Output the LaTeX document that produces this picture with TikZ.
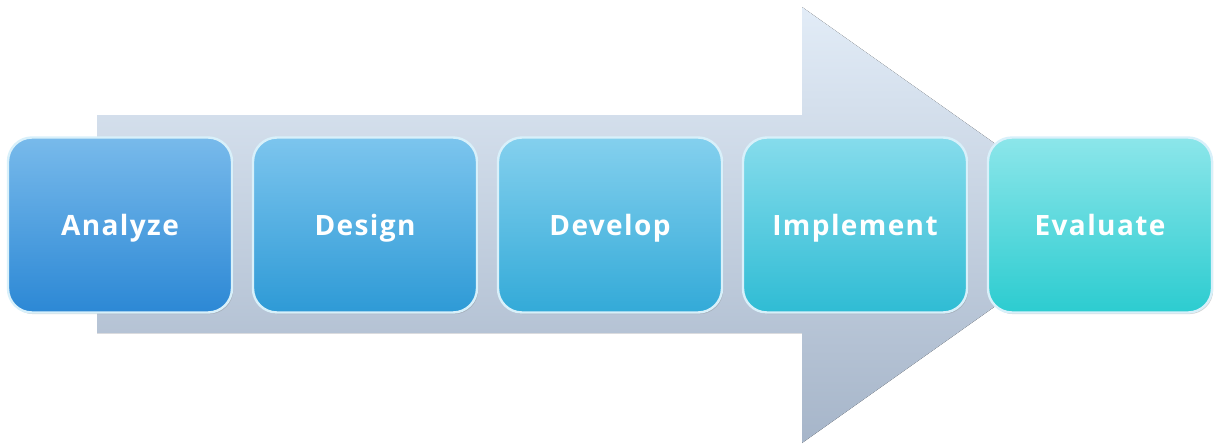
\documentclass[tikz,border=0pt]{standalone}
\usepackage{fontspec}
\setsansfont[LetterSpace=5]{Open Sans}
\usepackage{tikz}
\usetikzlibrary{shadows}
\usetikzlibrary{positioning}

\definecolor{flechaarriba}{HTML}{E2ECF7}
\definecolor{flechaabajo}{HTML}{A6B5C9}
\definecolor{borde}{HTML}{D8F0FA}

\tikzset{
  pasobox/.style={rounded corners=12pt, minimum width=112pt, minimum height=87.5pt,
    draw=borde, line width=1.2pt, text=white,
    text height=10pt, text depth=0pt,
    font=\sffamily\bfseries\fontsize{14}{16}\selectfont,
    drop shadow={shadow xshift=0.6pt, shadow yshift=-0.8pt, opacity=0.35}}
}

\begin{document}
\begin{tikzpicture}[x=0.5pt,y=-0.5pt]
\useasboundingbox (0,0) rectangle (1216,445);

% flecha de fondo
	\fill[top color=flechaarriba, bottom color=flechaabajo]
		(97,115) -- (802,115) -- (802,7) -- (1110,225)
		-- (802,443) -- (802,333) -- (97,333) -- cycle;

% pasos
	\foreach \nombre/\texto/\carriba/\cabajo [count=\i from=0] in
		{analyze/Analyze/78BAEB/2C88D5,
		 design/Design/7CC5EE/2E9AD6,
		 develop/Develop/84D0EE/33AAD8,
		 implement/Implement/86DCEC/2FBCD4,
		 evaluate/Evaluate/8CE6EA/2CCCD0}
	{
		\definecolor{ca}{HTML}{\carriba}
		\definecolor{cb}{HTML}{\cabajo}
		\node[pasobox, top color=ca, bottom color=cb] (\nombre) at (120+245*\i,225) {\texto};
	}
\end{tikzpicture}
\end{document}
